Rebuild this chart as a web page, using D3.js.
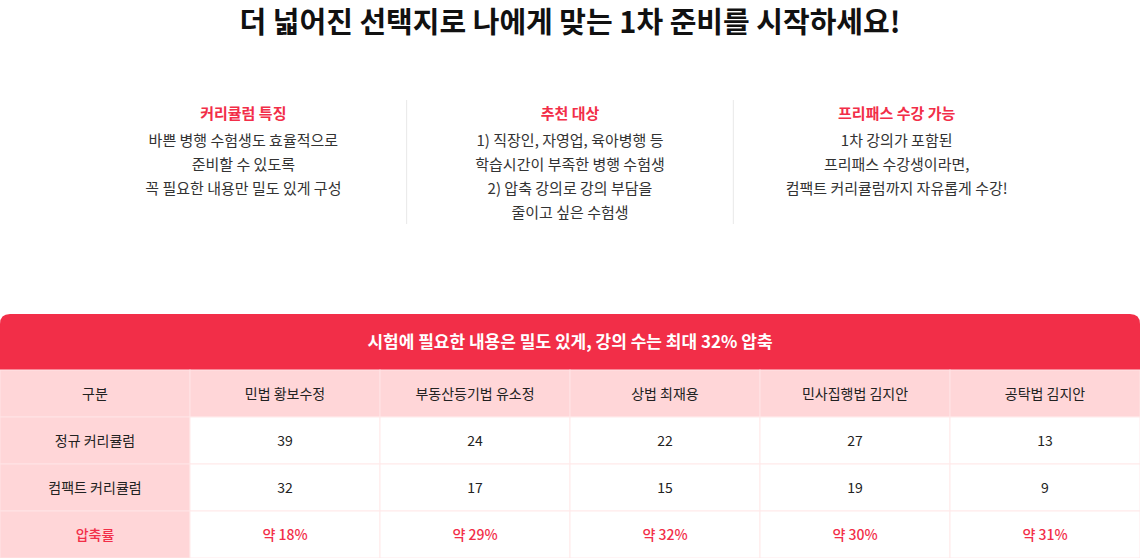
<!DOCTYPE html>
<html><head><meta charset="utf-8">
<script src="https://cdn.jsdelivr.net/npm/d3@7"></script>
<style>body{margin:0;background:#fff;}svg{display:block;font-family:"Noto Sans CJK KR","Noto Sans",sans-serif;}</style>
</head><body>
<script>
const title = "더 넓어진 선택지로 나에게 맞는 1차 준비를 시작하세요!";
const infoHeads = ["커리큘럼 특징", "추천 대상", "프리패스 수강 가능"];
const infoLines = [
  ["바쁜 병행 수험생도 효율적으로", "준비할 수 있도록", "꼭 필요한 내용만 밀도 있게 구성"],
  ["1) 직장인, 자영업, 육아병행 등", "학습시간이 부족한 병행 수험생", "2) 압축 강의로 강의 부담을", "줄이고 싶은 수험생"],
  ["1차 강의가 포함된", "프리패스 수강생이라면,", "컴팩트 커리큘럼까지 자유롭게 수강!"]
];
const tableTitle = "시험에 필요한 내용은 밀도 있게, 강의 수는 최대 32% 압축";
const columns = ["구분", "민법 황보수정", "부동산등기법 유소정", "상법 최재용", "민사집행법 김지안", "공탁법 김지안"];
const rowLabels = ["정규 커리큘럼", "컴팩트 커리큘럼", "압축률"];
const regular = [39, 24, 22, 27, 13];
const compact = [32, 17, 15, 19, 9];
const rates = ["약 18%", "약 29%", "약 32%", "약 30%", "약 31%"];

const W = 1140, H = 558;
const RED = "#f22e48", PINK = "#ffd6d8", LINE = "#ffe9ea", TXT = "#222";

const svg = d3.select("body").append("svg").attr("width", W).attr("height", H);

svg.append("text").attr("x", W / 2).attr("y", 33).attr("text-anchor", "middle")
  .attr("font-size", 29).attr("font-weight", 700).attr("fill", "#111").text(title);

// info columns
const xInfo = d3.scaleBand().domain(d3.range(3)).range([80, 1060]);
const info = svg.selectAll(".info").data(infoHeads).join("g")
  .attr("transform", (d, i) => `translate(${xInfo(i) + xInfo.bandwidth() / 2},0)`);
info.append("text").attr("y", 119).attr("text-anchor", "middle").attr("font-size", 15)
  .attr("font-weight", 700).attr("fill", RED).text(d => d);
info.selectAll("text.l").data((d, i) => infoLines[i]).join("text").attr("class", "l")
  .attr("y", (d, i) => 146 + i * 24).attr("text-anchor", "middle").attr("font-size", 15)
  .attr("fill", "#333").text(d => d);
svg.selectAll(".div").data([1, 2]).join("line")
  .attr("x1", i => xInfo(i)).attr("x2", i => xInfo(i)).attr("y1", 100).attr("y2", 224)
  .attr("stroke", "#e8e8e8");

// table
const x = d3.scaleBand().domain(columns).range([0, W]);
const rowY = d3.scaleBand().domain(["head", ...rowLabels]).range([370, 558]);
const tableTop = 314, r = 10;
svg.append("path").attr("fill", RED)
  .attr("d", `M0,370V${tableTop + r}Q0,${tableTop} ${r},${tableTop}H${W - r}Q${W},${tableTop} ${W},${tableTop + r}V370Z`);
svg.append("text").attr("x", W / 2).attr("y", 348).attr("text-anchor", "middle")
  .attr("font-size", 17).attr("font-weight", 700).attr("fill", "#fff").text(tableTitle);

const cells = [];
columns.forEach(c => cells.push({ row: "head", col: c, text: c }));
rowLabels.forEach((rl, ri) => {
  columns.forEach((c, ci) => {
    const text = ci === 0 ? rl : ri === 0 ? regular[ci - 1] : ri === 1 ? compact[ci - 1] : rates[ci - 1];
    cells.push({ row: rl, col: c, text, ci, ri });
  });
});
const g = svg.selectAll(".cell").data(cells).join("g")
  .attr("transform", d => `translate(${x(d.col)},${rowY(d.row)})`);
g.append("rect").attr("width", x.bandwidth()).attr("height", rowY.bandwidth())
  .attr("fill", d => (d.row === "head" || d.ci === 0) ? PINK : "#fff")
  .attr("stroke", d => (d.row === "head" || d.ci === 0) ? "#ffe4e5" : LINE).attr("stroke-width", 1);
g.append("text").attr("x", x.bandwidth() / 2).attr("y", rowY.bandwidth() / 2 + 5)
  .attr("text-anchor", "middle").attr("font-size", 14)
  .attr("font-weight", d => d.ri === 2 ? 500 : 400)
  .attr("fill", d => d.ri === 2 ? RED : TXT).text(d => d.text);
</script>
</body></html>
